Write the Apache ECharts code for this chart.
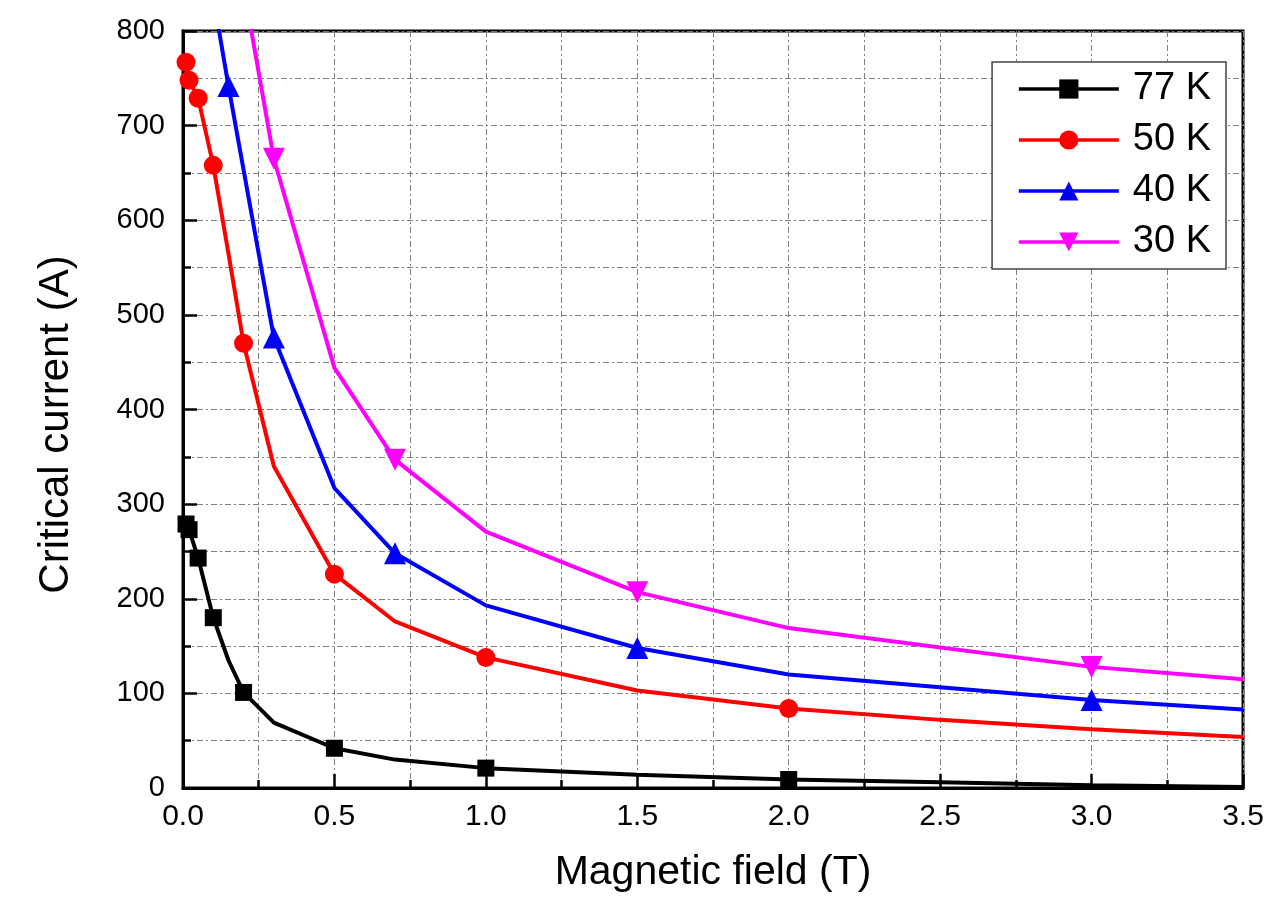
<!DOCTYPE html>
<html>
<head>
<meta charset="utf-8">
<script src="https://cdn.jsdelivr.net/npm/echarts@6/dist/echarts.min.js"></script>
<style>
html,body{margin:0;padding:0;background:#fff;}
#chart{width:1268px;height:906px;}
</style>
</head>
<body>
<div id="chart"></div>
<script>
// ---- data ----
const seriesNames = ['77 K', '50 K', '40 K', '30 K'];

const field77 = [0.01, 0.02, 0.05, 0.1, 0.15, 0.2, 0.3, 0.5, 0.7, 1.0, 1.5, 2.0, 2.5, 3.0, 3.5];
const current77 = [279, 273, 243, 180, 135, 101, 69, 42, 30, 21, 14, 9, 6, 3, 1];
const marker77 = [1, 1, 1, 1, 0, 1, 0, 1, 0, 1, 0, 1, 0, 0, 0];

const field50 = [0.01, 0.02, 0.05, 0.1, 0.15, 0.2, 0.3, 0.5, 0.7, 1.0, 1.5, 2.0, 2.5, 3.0, 3.5];
const current50 = [767, 748, 729, 658, 565, 470, 340, 226, 176, 138, 103, 84, 72, 62, 54];
const marker50 = [1, 1, 1, 1, 0, 1, 0, 1, 0, 1, 0, 1, 0, 0, 0];

const field40 = [0.1, 0.15, 0.3, 0.5, 0.7, 1.0, 1.5, 2.0, 3.0, 3.5];
const current40 = [836, 742, 476, 317, 248, 193, 148, 120, 93, 83];
const marker40 = [0, 1, 1, 0, 1, 0, 1, 0, 1, 0];

const field30 = [0.2, 0.3, 0.5, 0.7, 1.0, 1.5, 2.0, 3.0, 3.5];
const current30 = [847, 665, 444, 347, 271, 207, 169, 128, 115];
const marker30 = [0, 1, 0, 1, 0, 1, 0, 1, 0];

const xTickLabels = ['0.0', '0.5', '1.0', '1.5', '2.0', '2.5', '3.0', '3.5'];
const yTickLabels = ['0', '100', '200', '300', '400', '500', '600', '700', '800'];

// ---- chart ----
const FONT = '"Liberation Sans", Arial, sans-serif';
const colors = ['#000000', '#ff0000', '#0000ff', '#ff00ff'];
const symbols = ['rect', 'circle', 'triangle', 'path://M0,0 L10,0 L5,9 Z'];
const sizes = [17, 19, 22, 22];

function build(xs, ys, ms) {
  return xs.map((x, i) => ms[i] ? { value: [x, ys[i]] } : { value: [x, ys[i]], symbol: 'none' });
}
const allData = [
  build(field77, current77, marker77),
  build(field50, current50, marker50),
  build(field40, current40, marker40),
  build(field30, current30, marker30)
];

const gridLine = { show: true, lineStyle: { color: '#7f7f7f', width: 1, type: [6, 3, 2, 3] } };

const chart = echarts.init(document.getElementById('chart'), null, { renderer: 'canvas' });
chart.setOption({
  animation: false,
  backgroundColor: '#fff',
  grid: { left: 183, right: 25, top: 31, bottom: 118, show: true, borderColor: '#000', borderWidth: 3, backgroundColor: 'transparent' },
  xAxis: {
    type: 'value', min: 0, max: 3.5, interval: 0.5,
    name: 'Magnetic field (T)', nameLocation: 'middle', nameGap: 64,
    nameTextStyle: { fontFamily: FONT, fontSize: 41, color: '#000' },
    axisLine: { show: true, lineStyle: { color: '#000', width: 3 } },
    axisTick: { show: true, inside: true, length: 14, lineStyle: { color: '#000', width: 2.5 } },
    minorTick: { show: true, splitNumber: 2, length: 8, lineStyle: { color: '#000', width: 2.5 } },
    splitLine: gridLine,
    minorSplitLine: gridLine,
    axisLabel: { fontFamily: FONT, fontSize: 30, color: '#000', margin: 14,
      formatter: v => xTickLabels[Math.round(v / 0.5)] }
  },
  yAxis: {
    type: 'value', min: 0, max: 800, interval: 100,
    name: 'Critical current (A)', nameLocation: 'middle', nameGap: 106, nameRotate: 90,
    nameTextStyle: { fontFamily: FONT, fontSize: 42, color: '#000', padding: [0, 30, 0, 0] },
    axisLine: { show: true, lineStyle: { color: '#000', width: 3 } },
    axisTick: { show: true, inside: true, length: 14, lineStyle: { color: '#000', width: 2.5 } },
    minorTick: { show: true, splitNumber: 2, length: 8, lineStyle: { color: '#000', width: 2.5 } },
    splitLine: gridLine,
    minorSplitLine: gridLine,
    axisLabel: { fontFamily: FONT, fontSize: 29, color: '#000', margin: 18,
      formatter: v => yTickLabels[Math.round(v / 100)] }
  },
  legend: {
    orient: 'vertical', right: 42, top: 62,
    itemWidth: 100, itemHeight: 24, itemGap: 13,
    padding: [8, 15, 8, 25],
    backgroundColor: '#fff', borderColor: '#444', borderWidth: 1.5,
    lineStyle: { width: 3.5 },
    textStyle: { fontFamily: FONT, fontSize: 38, color: '#000', padding: [0, 0, 0, 9] },
    data: seriesNames
  },
  series: seriesNames.map((n, i) => ({
    name: n, type: 'line', data: allData[i],
    symbol: symbols[i], symbolSize: sizes[i],
    clip: true,
    lineStyle: { color: colors[i], width: 4 },
    itemStyle: { color: colors[i] },
    z: 10 - i
  }))
});
</script>
</body>
</html>
